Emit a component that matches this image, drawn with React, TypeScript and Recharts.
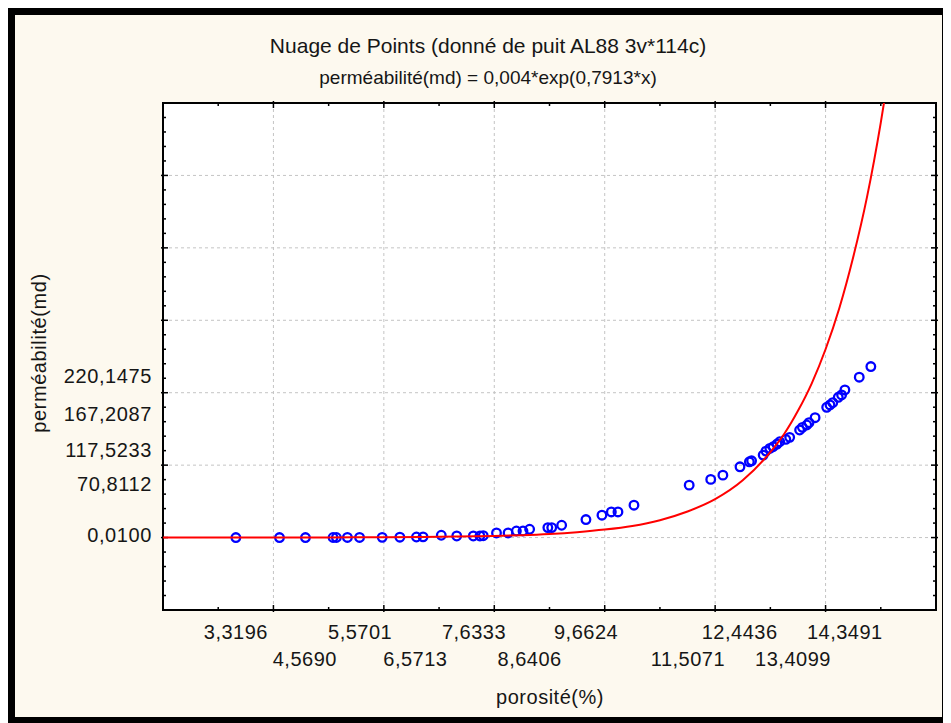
import React from "react";
import {
  ScatterChart,
  Scatter,
  XAxis,
  YAxis,
  CartesianGrid,
  ReferenceLine,
  ReferenceArea,
} from "recharts";

// porosité (%) et perméabilité (md) des échantillons du puits AL88
const porosite = [
  3.32, 4.11, 4.58, 5.08, 5.14, 5.34, 5.56, 5.97, 6.29, 6.59, 6.71, 7.04, 7.32,
  7.62, 7.74, 7.8, 8.04, 8.25, 8.4, 8.52, 8.64, 8.97, 9.04, 9.22, 9.66, 9.95,
  10.12, 10.24, 10.53, 11.53, 11.92, 12.14, 12.45, 12.62, 12.66, 12.87, 12.92,
  12.99, 13.05, 13.12, 13.17, 13.28, 13.35, 13.53, 13.58, 13.66, 13.7, 13.81,
  14.02, 14.08, 14.13, 14.23, 14.29, 14.35, 14.61, 14.82,
];
const permeabilite = [
  0.01, 0.02, 0.05, 0.1, 0.1, 0.15, 0.2, 0.3, 0.5, 0.8, 1.0, 3.2, 2.2, 2.2, 2.2,
  2.6, 6.4, 6.4, 9.1, 9.1, 11.5, 13.8, 13.8, 17.0, 24.9, 30.9, 35.4, 35.4, 44.7,
  72.4, 80.3, 86.2, 97.7, 104.6, 106.0, 113.9, 119.4, 123.2, 125.4, 129.1, 132.3,
  135.6, 138.4, 148.5, 152.2, 155.4, 158.6, 165.5, 179.9, 183.1, 186.3, 193.7,
  196.9, 203.8, 221.4, 236.1,
];

// courbe d'ajustement exponentielle
const courbeX = [2, 3, 4, 5, 6, 7, 8, 8.5, 9, 9.5, 10, 10.5, 11, 11.5, 12, 12.5, 13, 13.25, 13.5, 13.75, 14, 14.25, 14.5, 14.75, 15, 15.1];
const courbeY = [0.02, 0.04, 0.09, 0.2, 0.5, 1.0, 2.2, 3.3, 5, 7.5, 11, 16, 24, 36, 53, 79, 118, 143, 175, 213, 260, 317, 387, 470, 573, 620];

const xLabels = [3.3196, 4.569, 5.5701, 6.5713, 7.6333, 8.6406, 9.6624, 11.5071, 12.4436, 13.4099, 14.3491];
const yLabels = [0.01, 70.8112, 117.5233, 167.2087, 220.1475];
const xGrid = [4, 6, 8, 10, 12, 14];
const yGrid = [0, 100, 200, 300, 400, 500];

const X_MIN = 2;
const X_MAX = 16;
const Y_MIN = -100;
const Y_MAX = 600;

const points = porosite.map((x, i) => ({ x, y: permeabilite[i] }));
const courbe = courbeX.map((x, i) => ({ x, y: courbeY[i] }));

const FONT = '"Liberation Sans", Arial, sans-serif';
const INK = "#161616";

const fmt = (v: number) => v.toFixed(4).replace(".", ",");

// scale factors used only for tick mark lengths (px -> data units)
const PX_X = (X_MAX - X_MIN) / 773;
const PX_Y = (Y_MAX - Y_MIN) / 507;

const XTick = (props: any) => {
  const { x, y, payload, index } = props;
  const dy = index % 2 === 0 ? 29 : 55.5;
  return (
    <text x={x} y={y + dy} textAnchor="middle" fontSize={20} letterSpacing={0.5} fill={INK} fontFamily={FONT}>
      {fmt(payload.value)}
    </text>
  );
};

const YTick = (props: any) => {
  const { x, y, payload } = props;
  return (
    <text x={x - 11} y={y + 4.5} textAnchor="end" fontSize={20} letterSpacing={0.6} fill={INK} fontFamily={FONT}>
      {fmt(payload.value)}
    </text>
  );
};

const Point = (props: any) => (
  <circle cx={props.cx} cy={props.cy} r={4.3} fill="none" stroke="#0000ff" strokeWidth={2.3} />
);

function tickMarks() {
  const lines: React.ReactNode[] = [];
  for (let v = X_MIN + 1; v < X_MAX; v++) {
    const major = v % 2 === 0;
    const inn = (major ? 5 : 3) * PX_Y;
    const out = (major ? 2 : 0) * PX_Y;
    lines.push(
      <ReferenceLine key={`b${v}`} ifOverflow="visible" stroke="#000" strokeWidth={1.5}
        segment={[{ x: v, y: Y_MIN - out }, { x: v, y: Y_MIN + inn }]} />,
      <ReferenceLine key={`t${v}`} ifOverflow="visible" stroke="#000" strokeWidth={1.5}
        segment={[{ x: v, y: Y_MAX + out }, { x: v, y: Y_MAX - inn }]} />
    );
  }
  for (let v = Y_MIN + 20; v < Y_MAX; v += 20) {
    const major = v % 100 === 0;
    const inn = (major ? 5 : 3) * PX_X;
    const out = (major ? 2 : 0) * PX_X;
    lines.push(
      <ReferenceLine key={`l${v}`} ifOverflow="visible" stroke="#000" strokeWidth={1.5}
        segment={[{ x: X_MIN - out, y: v }, { x: X_MIN + inn, y: v }]} />,
      <ReferenceLine key={`r${v}`} ifOverflow="visible" stroke="#000" strokeWidth={1.5}
        segment={[{ x: X_MAX + out, y: v }, { x: X_MAX - inn, y: v }]} />
    );
  }
  return lines;
}

export default function App() {
  return (
    <div
      style={{
        position: "relative",
        width: 941,
        height: 716,
        boxSizing: "border-box",
        border: "7px solid #000",
        background: "#FDF9EF",
        fontFamily: FONT,
        color: INK,
      }}
    >
      <ScatterChart width={927} height={702} margin={{ top: 88, right: 6, bottom: 0, left: 0 }}>
        <CartesianGrid
          fill="#ffffff"
          stroke="#c4c4c4"
          strokeDasharray="3 3"
          horizontalValues={yGrid}
          verticalValues={xGrid}
        />
        <XAxis
          type="number"
          dataKey="x"
          domain={[X_MIN, X_MAX]}
          allowDataOverflow
          ticks={xLabels}
          interval={0}
          tick={<XTick />}
          tickLine={false}
          axisLine={false}
          tickSize={0}
          tickMargin={0}
          height={107}
        />
        <YAxis
          type="number"
          dataKey="y"
          domain={[Y_MIN, Y_MAX]}
          allowDataOverflow
          ticks={yLabels}
          interval={0}
          tick={<YTick />}
          tickLine={false}
          axisLine={false}
          tickSize={0}
          tickMargin={0}
          width={148}
        />
        <ReferenceArea x1={X_MIN} x2={X_MAX} y1={Y_MIN} y2={Y_MAX} fill="none" stroke="#000" strokeWidth={2} ifOverflow="visible" />
        {tickMarks()}
        <Scatter data={points} shape={<Point />} isAnimationActive={false} />
        <Scatter
          data={courbe}
          line={{ stroke: "#ff0000", strokeWidth: 2 }}
          lineJointType="monotoneX"
          shape={() => <g />}
          isAnimationActive={false}
        />
      </ScatterChart>

      <div style={{ position: "absolute", left: 173, width: 600, top: 19, lineHeight: "24px", textAlign: "center", fontSize: 21 }}>
        Nuage de Points (donné de puit AL88 3v*114c)
      </div>
      <div style={{ position: "absolute", left: 173, width: 600, top: 51, lineHeight: "24px", textAlign: "center", fontSize: 19 }}>
        perméabilité(md) = 0,004*exp(0,7913*x)
      </div>
      <div style={{ position: "absolute", left: 235, width: 600, top: 670, lineHeight: "24px", textAlign: "center", fontSize: 20, letterSpacing: 0.5 }}>
        porosité(%)
      </div>
      <div
        style={{
          position: "absolute",
          left: 24,
          top: 338,
          transform: "translate(-50%, -50%) rotate(-90deg)",
          whiteSpace: "nowrap",
          fontSize: 20,
          lineHeight: "24px",
          letterSpacing: 0.6,
        }}
      >
        perméabilité(md)
      </div>
    </div>
  );
}
